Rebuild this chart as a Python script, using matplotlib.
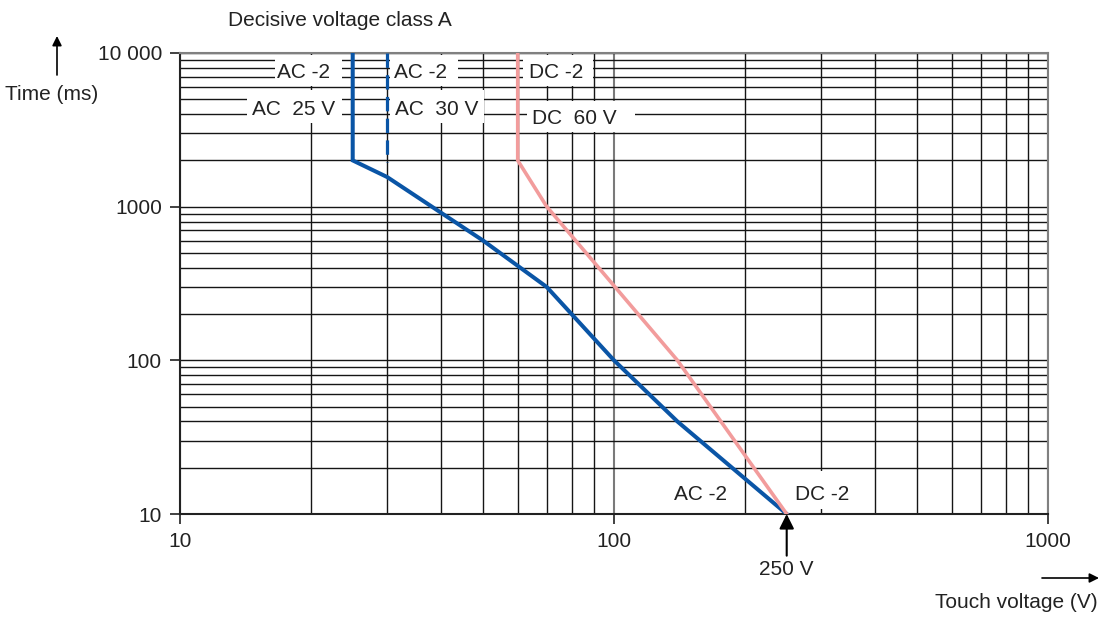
import matplotlib
matplotlib.use('Agg')
import matplotlib.pyplot as plt
from matplotlib.patches import Rectangle
from matplotlib.ticker import FixedLocator, FixedFormatter, NullFormatter, LogLocator

plt.rcParams['font.family'] = ['Liberation Sans', 'DejaVu Sans']

# AC-2 curve (solid blue), AC 30 V limit (dashed blue), DC-2 curve (pink)
ac_v = [25, 25, 30, 50, 70, 100, 140, 250]
ac_t = [10000, 2000, 1560, 600, 300, 100, 40, 10]
ac30_v = [30, 30]
ac30_t = [10000, 1950]
dc_v = [60, 60, 70, 140, 250]
dc_t = [10000, 2000, 1000, 100, 10]

x_ticks = [10, 100, 1000]
x_labels = ['10', '100', '1000']
y_ticks = [10, 100, 1000, 10000]
y_labels = ['10', '100', '1000', '10 000']

BLUE = '#0a55a6'
PINK = '#f29c9c'
TXT = '#222222'
FS = 15

fig = plt.figure(figsize=(11.03, 6.17), dpi=100)
ax = fig.add_axes([180 / 1103, 1 - 514 / 617, 868 / 1103, 461 / 617])
ax.set_xscale('log')
ax.set_yscale('log')
ax.set_xlim(10, 1000)
ax.set_ylim(10, 10000)

# grid
ax.set_axisbelow(True)
ax.xaxis.set_minor_locator(LogLocator(base=10, subs=range(2, 10)))
ax.yaxis.set_minor_locator(LogLocator(base=10, subs=range(2, 10)))
ax.xaxis.grid(True, which='major', color='#7a7a7a', lw=1.5)
ax.xaxis.grid(True, which='minor', color='#151515', lw=1.0)
ax.yaxis.grid(True, which='both', color='#151515', lw=1.0)

ax.xaxis.set_major_locator(FixedLocator(x_ticks))
ax.xaxis.set_major_formatter(FixedFormatter(x_labels))
ax.yaxis.set_major_locator(FixedLocator(y_ticks))
ax.yaxis.set_major_formatter(FixedFormatter(y_labels))
ax.xaxis.set_minor_formatter(NullFormatter())
ax.yaxis.set_minor_formatter(NullFormatter())
ax.tick_params(which='major', length=7, width=1.3, color='#333333',
               labelsize=FS, labelcolor=TXT, pad=6)
ax.tick_params(which='minor', length=0)

for side in ['top', 'right']:
    ax.spines[side].set_color('#808080')
    ax.spines[side].set_linewidth(1.5)
for side in ['left', 'bottom']:
    ax.spines[side].set_color('#222222')
    ax.spines[side].set_linewidth(1.5)

# curves
ax.plot(ac_v, ac_t, color=BLUE, lw=2.9, zorder=4, solid_joinstyle='miter')
ax.plot(ac30_v, ac30_t, color=BLUE, lw=2.3, dashes=(4.5, 2.3), zorder=4)
ax.plot(dc_v, dc_t, color=PINK, lw=2.6, zorder=4)


def label(text, x, y, box, ha='center'):
    x0, x1, y0, y1 = box
    ax.add_patch(Rectangle((x0, y0), x1 - x0, y1 - y0, fc='white', ec='none', zorder=2))
    ax.text(x, y, text, ha=ha, va='center_baseline', fontsize=FS, color=TXT, zorder=3)


label('AC -2', 19.3, 7636, (16.55, 23.6, 6100, 9705))
label('AC  25 V', 18.3, 4387, (14.3, 23.6, 3504, 5744))
label('AC -2', 35.9, 7636, (30.5, 43.7, 6100, 9705))
label('AC  30 V', 39.0, 4387, (30.5, 50.2, 3504, 5744))
label('DC -2', 73.5, 7636, (61.7, 89.5, 6100, 9705))
label('DC  60 V', 64.8, 3890, (63.0, 111.8, 3062, 4872), ha='left')
label('AC -2', 158, 13.7, (140, 180, 10.8, 19.0))
label('DC -2', 301, 13.7, (254, 359, 10.8, 19.0))

# 250 V marker
ax.annotate('', xy=(250, 10), xytext=(0, -30), textcoords='offset points',
            arrowprops=dict(arrowstyle='-|>', color='black', lw=1.5,
                            mutation_scale=22, shrinkA=0, shrinkB=0),
            annotation_clip=False)
ax.annotate('250 V', xy=(250, 10), xytext=(0, -40), textcoords='offset points',
            ha='center', va='center', fontsize=FS, color=TXT, annotation_clip=False)

# titles and axis labels
fig.text(228 / 1103, 1 - 20 / 617, 'Decisive voltage class A', fontsize=FS,
         color=TXT, ha='left', va='center')
fig.text(52 / 1103, 1 - 95 / 617, 'Time (ms)', fontsize=FS, color=TXT,
         ha='center', va='center')
fig.text(1098 / 1103, 1 - 602 / 617, 'Touch voltage (V)', fontsize=FS,
         color=TXT, ha='right', va='center')

ax.annotate('', xy=(57 / 1103, 1 - 36 / 617), xytext=(57 / 1103, 1 - 75 / 617),
            xycoords='figure fraction', textcoords='figure fraction',
            arrowprops=dict(arrowstyle='-|>', color='black', lw=1.2,
                            mutation_scale=14, shrinkA=0, shrinkB=0))
ax.annotate('', xy=(1099 / 1103, 1 - 578 / 617), xytext=(1042 / 1103, 1 - 578 / 617),
            xycoords='figure fraction', textcoords='figure fraction',
            arrowprops=dict(arrowstyle='-|>', color='black', lw=1.2,
                            mutation_scale=14, shrinkA=0, shrinkB=0))

fig.savefig('out.png', dpi=100)
